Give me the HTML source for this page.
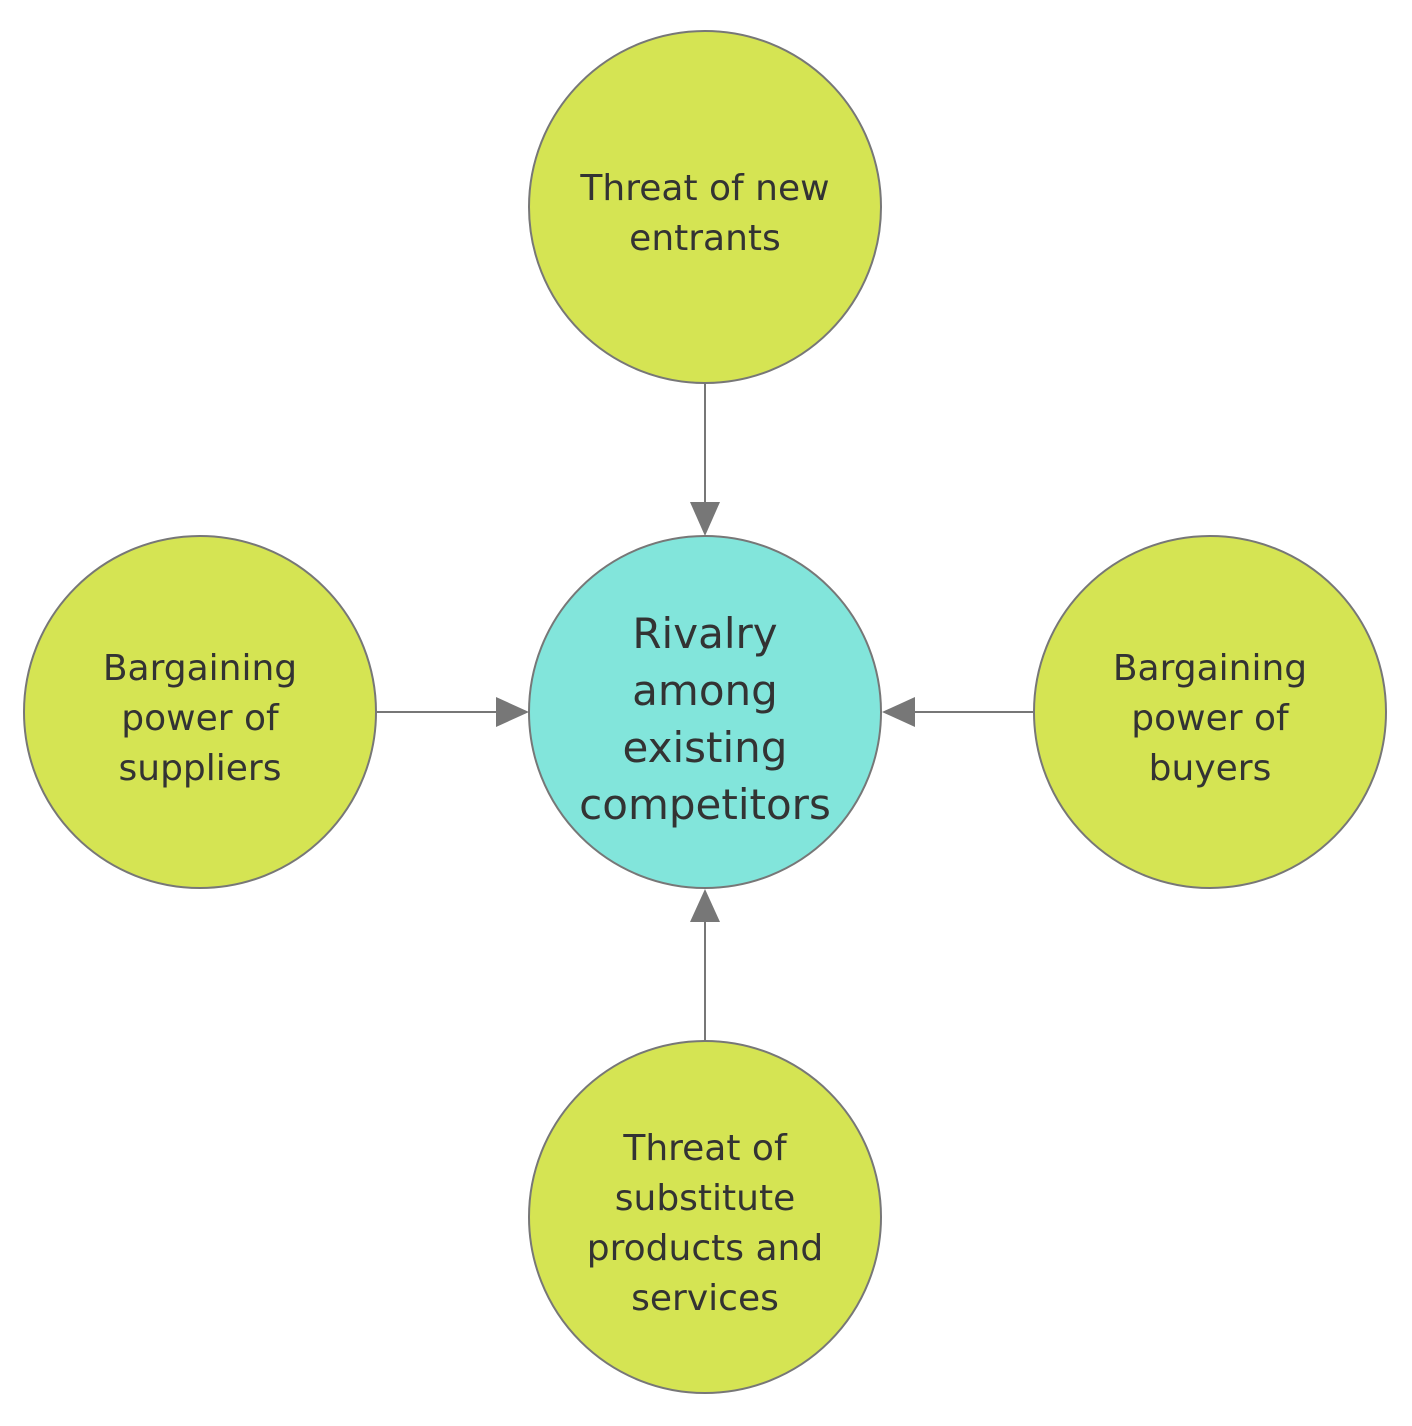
<!DOCTYPE html>
<html><head><meta charset="utf-8"><style>
html,body{margin:0;padding:0;background:#fff}
svg{display:block}
text{font-family:"DejaVu Sans","Liberation Sans",sans-serif;fill:#333;text-anchor:middle}
</style></head><body>
<svg width="1412" height="1426" viewBox="0 0 1412 1426">
<g stroke="#777" stroke-width="2">
<circle cx="705" cy="207" r="176" fill="#d5e453"/>
<circle cx="200" cy="712" r="176" fill="#d5e453"/>
<circle cx="1210" cy="712" r="176" fill="#d5e453"/>
<circle cx="705" cy="1217" r="176" fill="#d5e453"/>
<circle cx="705" cy="712" r="176" fill="#82e5db"/>
<line x1="705" y1="384" x2="705" y2="505"/>
<line x1="377" y1="712" x2="500" y2="712"/>
<line x1="1033" y1="712" x2="912" y2="712"/>
<line x1="705" y1="1040" x2="705" y2="920"/>
</g>
<g fill="#777">
<polygon points="690,502 720,502 705,536"/>
<polygon points="496,697 496,727 529,712"/>
<polygon points="915,697 915,727 882,712"/>
<polygon points="690,922 720,922 705,889"/>
</g>
<g font-size="36">
<text x="705" y="200">Threat of new</text>
<text x="705" y="250">entrants</text>
<text x="200" y="680">Bargaining</text>
<text x="200" y="730">power of</text>
<text x="200" y="780">suppliers</text>
<text x="1210" y="680">Bargaining</text>
<text x="1210" y="730">power of</text>
<text x="1210" y="780">buyers</text>
<text x="705" y="1160">Threat of</text>
<text x="705" y="1210">substitute</text>
<text x="705" y="1260">products and</text>
<text x="705" y="1310">services</text>
</g>
<g font-size="42">
<text x="705" y="648">Rivalry</text>
<text x="705" y="705">among</text>
<text x="705" y="762">existing</text>
<text x="705" y="819">competitors</text>
</g>
</svg>
</body></html>
